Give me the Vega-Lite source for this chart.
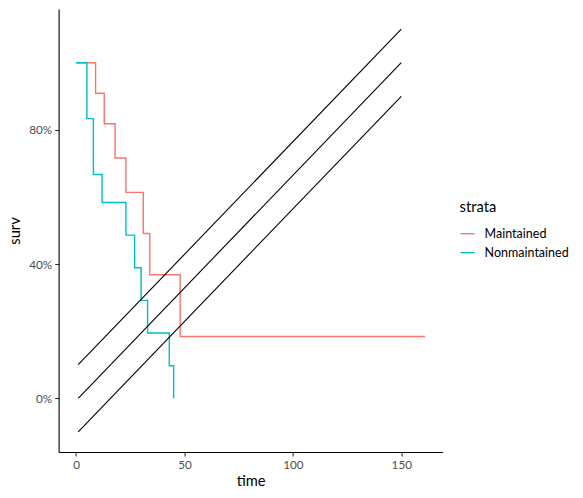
{
  "$schema": "https://vega.github.io/schema/vega-lite/v6.json",
  "autosize": "none",
  "width": 384,
  "height": 443,
  "padding": {"left": 58.6, "top": 9, "right": 140.4, "bottom": 46},
  "background": "white",
  "config": {
    "font": "Lato",
    "view": {"stroke": null},
    "axis": {
      "grid": false,
      "domainColor": "black",
      "domainWidth": 1.1,
      "tickColor": "#333333",
      "tickSize": 4,
      "tickWidth": 1.1,
      "labelColor": "#4D4D4D",
      "labelFontSize": 11.7,
      "labelPadding": 3,
      "titleFontSize": 14.7,
      "titleFontWeight": "normal",
      "titleColor": "black"
    }
  },
  "datasets": {
    "km": [
      {"time": 0, "surv": 1, "strata": "Maintained"},
      {"time": 9, "surv": 0.9091, "strata": "Maintained"},
      {"time": 13, "surv": 0.8182, "strata": "Maintained"},
      {"time": 18, "surv": 0.7159, "strata": "Maintained"},
      {"time": 23, "surv": 0.6136, "strata": "Maintained"},
      {"time": 31, "surv": 0.4909, "strata": "Maintained"},
      {"time": 34, "surv": 0.3682, "strata": "Maintained"},
      {"time": 48, "surv": 0.1841, "strata": "Maintained"},
      {"time": 161, "surv": 0.1841, "strata": "Maintained"},
      {"time": 0, "surv": 1, "strata": "Nonmaintained"},
      {"time": 5, "surv": 0.8333, "strata": "Nonmaintained"},
      {"time": 8, "surv": 0.6667, "strata": "Nonmaintained"},
      {"time": 12, "surv": 0.5833, "strata": "Nonmaintained"},
      {"time": 23, "surv": 0.4861, "strata": "Nonmaintained"},
      {"time": 27, "surv": 0.3889, "strata": "Nonmaintained"},
      {"time": 30, "surv": 0.2917, "strata": "Nonmaintained"},
      {"time": 33, "surv": 0.1944, "strata": "Nonmaintained"},
      {"time": 43, "surv": 0.0972, "strata": "Nonmaintained"},
      {"time": 45, "surv": 0, "strata": "Nonmaintained"}
    ],
    "diag": [
      {"time": 1, "surv": 0.1, "line": "upper"},
      {"time": 150, "surv": 1.1, "line": "upper"},
      {"time": 1, "surv": 0, "line": "middle"},
      {"time": 150, "surv": 1, "line": "middle"},
      {"time": 1, "surv": -0.1, "line": "lower"},
      {"time": 150, "surv": 0.9, "line": "lower"}
    ]
  },
  "layer": [
    {
      "data": {"name": "km"},
      "mark": {"type": "line", "interpolate": "step-after", "strokeWidth": 1.4},
      "encoding": {
        "x": {"field": "time", "type": "quantitative", "scale": {"domain": [-8.05, 169.05], "nice": false, "zero": false},
              "axis": {"values": [0, 50, 100, 150], "title": "time", "titlePadding": 3}},
        "y": {"field": "surv", "type": "quantitative", "scale": {"domain": [-0.16, 1.16], "nice": false, "zero": false},
              "axis": {"values": [0, 0.4, 0.8], "format": ".0%", "title": "surv", "titlePadding": 6}},
        "color": {"field": "strata", "type": "nominal",
                  "scale": {"domain": ["Maintained", "Nonmaintained"], "range": ["#F8766D", "#00BFC4"]},
                  "legend": {"orient": "none", "legendX": 401, "legendY": 191, "title": "strata",
                             "titleFontSize": 14.7, "titleFontWeight": "normal", "titleColor": "black",
                             "titlePadding": 11,
                             "labelFontSize": 12.5, "labelColor": "black", "symbolType": "stroke",
                             "symbolSize": 196, "symbolStrokeWidth": 1.4, "labelOffset": 9, "rowPadding": 4}}
      }
    },
    {
      "data": {"name": "diag"},
      "mark": {"type": "line", "color": "black", "strokeWidth": 1.1},
      "encoding": {
        "x": {"field": "time", "type": "quantitative"},
        "y": {"field": "surv", "type": "quantitative"},
        "detail": {"field": "line", "type": "nominal"}
      }
    }
  ]
}
